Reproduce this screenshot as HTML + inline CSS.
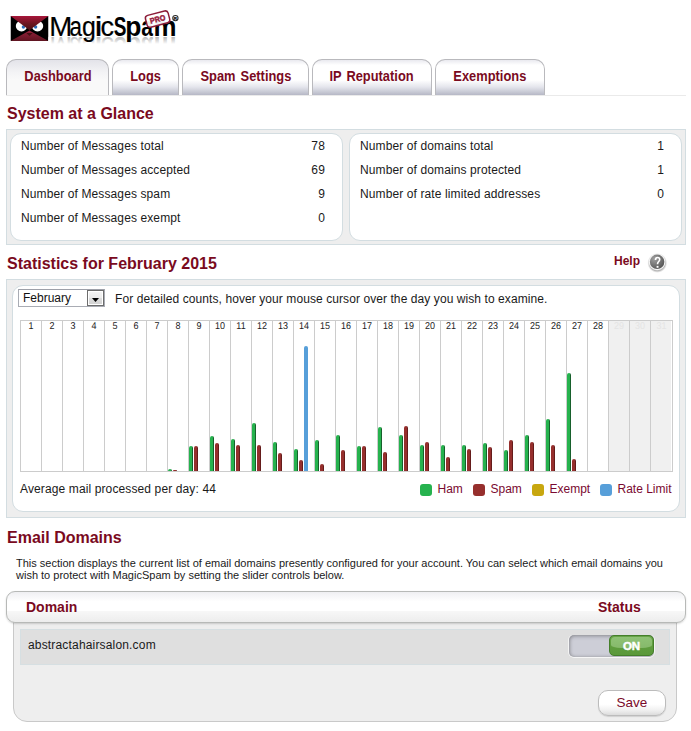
<!DOCTYPE html>
<html>
<head>
<meta charset="utf-8">
<title>MagicSpam</title>
<style>
html,body{margin:0;padding:0;background:#fff;}
body{width:691px;height:731px;position:relative;overflow:hidden;font-family:"Liberation Sans",sans-serif;font-size:12px;color:#1a1a1a;}
.abs{position:absolute;}
.h{position:absolute;left:7px;font-weight:bold;font-size:16px;color:#7a0a1e;line-height:18px;white-space:nowrap;}
/* tabs */
.tab{position:absolute;top:59px;height:36px;box-sizing:border-box;border:1px solid #b9b9bd;border-bottom:none;border-radius:10px 10px 0 0;
 font-weight:bold;font-size:13px;color:#7a0a1e;text-align:center;line-height:33px;word-spacing:1.5px;
 background:linear-gradient(to bottom,#e9e9ef 0px,#ffffff 5px,#ffffff 20px,#e4e5ec 27px,#b6b8c6 35px);}
.tab.act{background:linear-gradient(to bottom,#e3e3e9 0px,#f3f3f5 12px,#f9f9f9 20px,#f9f9f9 35px);}
.tab span{display:inline-block;transform:scale(0.99,1.12);transform-origin:50% 23.500px;}
.tabline{position:absolute;left:6px;top:95px;width:680px;height:1px;background:#eaeaea;}
/* panels */
.panel{position:absolute;left:6px;width:680px;box-sizing:border-box;background:#eeeeee;border:1px solid #d3dde1;}
.box{position:absolute;box-sizing:border-box;background:#fff;border:1px solid #d3dde1;border-radius:11px;}
.row{position:absolute;left:0;right:0;height:24px;line-height:24px;white-space:nowrap;}
.row .l{letter-spacing:0.11px;}
.row .l{position:absolute;left:10px;}
.row .r{position:absolute;right:16.800px;letter-spacing:0.3px;}
/* chart */
.chart{position:absolute;left:20px;top:320px;width:652px;height:152px;}
.col{position:absolute;top:0;width:22px;height:152px;box-sizing:border-box;border:1px solid #cccccc;font-size:9px;line-height:10px;text-align:center;color:#1c1c1c;}
.col i{display:block;font-style:normal;transform:rotate(0.05deg) scaleY(1.10);transform-origin:50% 8px;}
.col.off{background:#f0f0f0;color:#e4e4e4;}
.bar{position:absolute;bottom:0;width:4px;border-radius:2px 2px 0 0;}
.g{background:linear-gradient(to right,#26b24e 0,#26b24e 3px,#17602c 3px);}
.s{background:linear-gradient(to right,#962f2d 0,#962f2d 3px,#651c1b 3px);}
.b{background:#579fd9;}
.leg{position:absolute;top:484px;width:12px;height:12px;border-radius:3px;}
.legt{position:absolute;top:482px;line-height:15px;color:#7a0a30;white-space:nowrap;}
</style>
</head>
<body>

<!-- LOGO -->
<svg class="abs" style="left:0;top:0" width="200" height="56" viewBox="0 0 200 56">
  <defs>
    <linearGradient id="rt" x1="0" y1="0" x2="0" y2="1"><stop offset="0" stop-color="#a8163a"/><stop offset="0.55" stop-color="#6a1520"/><stop offset="1" stop-color="#4c1014"/></linearGradient>
    <linearGradient id="rb" x1="0" y1="0" x2="0" y2="1"><stop offset="0" stop-color="#94203a"/><stop offset="1" stop-color="#5e1420"/></linearGradient>
    <linearGradient id="fade" x1="0" y1="0" x2="0" y2="1"><stop offset="0" stop-color="#fff" stop-opacity="0.5"/><stop offset="0.36" stop-color="#fff" stop-opacity="1"/></linearGradient>
    <clipPath id="env"><rect x="10.5" y="16" width="38" height="25"/></clipPath>
    <clipPath id="refl"><rect x="48" y="36.600" width="135" height="20"/></clipPath>
  </defs>
  <g clip-path="url(#env)">
    <rect x="10.5" y="16" width="38" height="25" fill="#000"/>
    <ellipse cx="21.500" cy="26.100" rx="5.700" ry="5.300" fill="#fff"/>
    <ellipse cx="37.500" cy="26.100" rx="5.700" ry="5.300" fill="#fff"/>
    <circle cx="23.4" cy="27" r="1.7" fill="#2a6cb8"/>
    <circle cx="35.6" cy="27" r="1.7" fill="#2a6cb8"/>
    <polygon points="10.5,16 48.500,16 29.5,30.2" fill="url(#rt)"/>
    <polygon points="10.5,41 48.5,41 29.5,30.6" fill="url(#rb)"/>
    <polygon points="26.300,32.900 32.700,32.900 29.500,36.100" fill="#451014"/>
  </g>
  <!-- reflection -->
  <g clip-path="url(#refl)"><g transform="translate(0,72.800) scale(1,-1)" opacity="0.6"><text transform="translate(49.13,36.20) scale(0.988,1)" font-family="Liberation Sans, sans-serif" font-size="28" stroke="#000" stroke-width="0.2">M</text><text transform="translate(69.45,36.20) scale(0.800,1)" font-family="Liberation Sans, sans-serif" font-size="28" stroke="#000" stroke-width="0.2">a</text><text transform="translate(82.05,36.20) scale(0.889,1)" font-family="Liberation Sans, sans-serif" font-size="28" stroke="#000" stroke-width="0.2">g</text><text transform="translate(94.46,36.20) scale(1.300,1)" font-family="Liberation Sans, sans-serif" font-size="28" stroke="#000" stroke-width="0.2">i</text><text transform="translate(100.45,36.20) scale(0.969,1)" font-family="Liberation Sans, sans-serif" font-size="28" stroke="#000" stroke-width="0.2">c</text><text transform="translate(113.65,36.20) scale(0.680,1)" font-family="Liberation Sans, sans-serif" font-size="28" font-weight="bold">S</text><text transform="translate(125.16,36.20) scale(0.943,1)" font-family="Liberation Sans, sans-serif" font-size="28" font-weight="bold">p</text><text transform="translate(141.18,36.20) scale(0.750,1)" font-family="Liberation Sans, sans-serif" font-size="28" font-weight="bold">a</text><text transform="translate(153.59,36.20) scale(0.924,1)" font-family="Liberation Sans, sans-serif" font-size="28" font-weight="bold">m</text></g></g>
  <rect x="48" y="36.800" width="132" height="20" fill="url(#fade)"/>
  <g fill="#000"><text transform="translate(49.13,36.20) scale(0.988,1)" font-family="Liberation Sans, sans-serif" font-size="28" stroke="#000" stroke-width="0.2">M</text><text transform="translate(69.45,36.20) scale(0.800,1)" font-family="Liberation Sans, sans-serif" font-size="28" stroke="#000" stroke-width="0.2">a</text><text transform="translate(82.05,36.20) scale(0.889,1)" font-family="Liberation Sans, sans-serif" font-size="28" stroke="#000" stroke-width="0.2">g</text><text transform="translate(94.46,36.20) scale(1.300,1)" font-family="Liberation Sans, sans-serif" font-size="28" stroke="#000" stroke-width="0.2">i</text><text transform="translate(100.45,36.20) scale(0.969,1)" font-family="Liberation Sans, sans-serif" font-size="28" stroke="#000" stroke-width="0.2">c</text><text transform="translate(113.65,36.20) scale(0.680,1)" font-family="Liberation Sans, sans-serif" font-size="28" font-weight="bold">S</text><text transform="translate(125.16,36.20) scale(0.943,1)" font-family="Liberation Sans, sans-serif" font-size="28" font-weight="bold">p</text><text transform="translate(141.18,36.20) scale(0.750,1)" font-family="Liberation Sans, sans-serif" font-size="28" font-weight="bold">a</text><text transform="translate(153.59,36.20) scale(0.924,1)" font-family="Liberation Sans, sans-serif" font-size="28" font-weight="bold">m</text></g>
  <!-- PRO stamp -->
  <g transform="translate(157.600,19.100) rotate(-14.500)">
    <rect x="-11.700" y="-6.100" width="23.400" height="12.200" rx="3" fill="#fff" fill-opacity="0.93" stroke="#8c1c38" stroke-width="1.500"/>
    <text x="0" y="2.800" text-anchor="middle" font-family="Liberation Sans, sans-serif" font-size="7.800" font-weight="bold" fill="#98203e" stroke="#98203e" stroke-width="0.500" textLength="15.500" lengthAdjust="spacingAndGlyphs">PRO</text>
  </g>
  <circle cx="175.400" cy="18.100" r="2.650" fill="#fff" stroke="#2a2a2a" stroke-width="1.050"/>
  <text x="175.450" y="19.700" text-anchor="middle" font-family="Liberation Sans, sans-serif" font-size="4.400" font-weight="bold" fill="#111" stroke="#111" stroke-width="0.250">R</text>
</svg>

<!-- TABS -->
<div class="tabline"></div>
<div class="tab act" style="left:6px;width:103px;"><span>Dashboard</span></div>
<div class="tab" style="left:112px;width:67px;"><span>Logs</span></div>
<div class="tab" style="left:182px;width:127px;"><span>Spam Settings</span></div>
<div class="tab" style="left:312px;width:120px;"><span>IP Reputation</span></div>
<div class="tab" style="left:435px;width:110px;"><span>Exemptions</span></div>

<!-- SYSTEM AT A GLANCE -->
<div class="h" style="top:105px;">System at a Glance</div>
<div class="panel" style="top:129px;height:116px;">
  <div class="box" style="left:3px;top:3px;width:333px;height:108px;">
    <div class="row" style="top:0px;"><span class="l">Number of Messages total</span><span class="r">78</span></div>
    <div class="row" style="top:24px;"><span class="l">Number of Messages accepted</span><span class="r">69</span></div>
    <div class="row" style="top:48px;"><span class="l">Number of Messages spam</span><span class="r">9</span></div>
    <div class="row" style="top:72px;"><span class="l">Number of Messages exempt</span><span class="r">0</span></div>
  </div>
  <div class="box" style="left:342px;top:3px;width:333px;height:108px;">
    <div class="row" style="top:0px;"><span class="l">Number of domains total</span><span class="r">1</span></div>
    <div class="row" style="top:24px;"><span class="l">Number of domains protected</span><span class="r">1</span></div>
    <div class="row" style="top:48px;"><span class="l">Number of rate limited addresses</span><span class="r">0</span></div>
  </div>
</div>

<!-- STATISTICS -->
<div class="h" style="top:255px;">Statistics for February 2015</div>
<div class="abs" style="left:614px;top:254px;font-weight:bold;font-size:12px;color:#7a0a1e;line-height:15px;">Help</div>
<svg class="abs" style="left:645px;top:250px" width="25" height="25" viewBox="0 0 25 25">
  <defs>
    <radialGradient id="hg" cx="0.32" cy="0.3" r="0.85"><stop offset="0" stop-color="#a0a0a0"/><stop offset="0.5" stop-color="#767676"/><stop offset="1" stop-color="#4e4e4e"/></radialGradient>
    <radialGradient id="hs" cx="0.5" cy="0.5" r="0.5"><stop offset="0.8" stop-color="#b9b9b9"/><stop offset="1" stop-color="#dcdcdc" stop-opacity="0"/></radialGradient>
  </defs>
  <ellipse cx="12.300" cy="13" rx="10" ry="10" fill="url(#hs)"/>
  <circle cx="12.100" cy="12" r="8.300" fill="#f8f8f8"/>
  <circle cx="12.100" cy="11.850" r="7.250" fill="url(#hg)"/>
  <path d="M10.500,9.900 C10.500,8.300 11.400,7.500 12.600,7.500 C13.900,7.500 14.700,8.400 14.700,9.500 C14.700,11.500 12.500,11.700 12.500,14.300" fill="none" stroke="#fff" stroke-width="1.600" stroke-linecap="butt"/>
  <rect x="11.600" y="15.900" width="1.900" height="1.900" fill="#fff"/>
</svg>

<div class="panel" style="top:279px;height:239px;">
  <div class="box" style="left:5px;top:5px;width:668px;height:227px;"></div>
</div>
<!-- select -->
<div class="abs" style="left:18px;top:289px;width:87px;height:18px;box-sizing:border-box;border:1px solid #a9acb4;border-top-color:#9da0a8;background:#fff;">
  <div class="abs" style="left:4px;top:0;line-height:16px;font-size:12px;color:#111;">February</div>
</div>
<div class="abs" style="left:87px;top:290px;width:17px;height:16px;box-sizing:border-box;border:1px solid #6d6d6d;background:#fff;">
  <div class="abs" style="left:1px;top:1px;width:13px;height:12px;background:linear-gradient(to bottom,#f3f3f3 0,#ebebeb 49%,#dddddd 51%,#d3d3d3 100%);"></div>
  <svg class="abs" style="left:4px;top:7px" width="7" height="4" viewBox="0 0 7 4"><polygon points="0,0 7,0 3.500,4" fill="#000"/></svg>
</div>
<div class="abs" style="left:115px;top:291px;line-height:16px;white-space:nowrap;color:#1a1a1a;letter-spacing:0.08px;">For detailed counts, hover your mouse cursor over the day you wish to examine.</div>

<div class="chart"><div class="col" style="left:0px"><i>1</i></div>
<div class="col" style="left:21px"><i>2</i></div>
<div class="col" style="left:42px"><i>3</i></div>
<div class="col" style="left:63px"><i>4</i></div>
<div class="col" style="left:84px"><i>5</i></div>
<div class="col" style="left:105px"><i>6</i></div>
<div class="col" style="left:126px"><i>7</i></div>
<div class="col" style="left:147px"><i>8</i><div class="bar g" style="left:0px;height:2px"></div><div class="bar s" style="left:5px;height:1px"></div></div>
<div class="col" style="left:168px"><i>9</i><div class="bar g" style="left:0px;height:25px"></div><div class="bar s" style="left:5px;height:25px"></div></div>
<div class="col" style="left:189px"><i>10</i><div class="bar g" style="left:0px;height:35px"></div><div class="bar s" style="left:5px;height:28px"></div></div>
<div class="col" style="left:210px"><i>11</i><div class="bar g" style="left:0px;height:32px"></div><div class="bar s" style="left:5px;height:26px"></div></div>
<div class="col" style="left:231px"><i>12</i><div class="bar g" style="left:0px;height:48px"></div><div class="bar s" style="left:5px;height:26px"></div></div>
<div class="col" style="left:252px"><i>13</i><div class="bar g" style="left:0px;height:29px"></div><div class="bar s" style="left:5px;height:18px"></div></div>
<div class="col" style="left:273px"><i>14</i><div class="bar g" style="left:0px;height:22px"></div><div class="bar s" style="left:5px;height:11px"></div><div class="bar b" style="left:10px;height:125px"></div></div>
<div class="col" style="left:294px"><i>15</i><div class="bar g" style="left:0px;height:31px"></div><div class="bar s" style="left:5px;height:7px"></div></div>
<div class="col" style="left:315px"><i>16</i><div class="bar g" style="left:0px;height:36px"></div><div class="bar s" style="left:5px;height:21px"></div></div>
<div class="col" style="left:336px"><i>17</i><div class="bar g" style="left:0px;height:25px"></div><div class="bar s" style="left:5px;height:25px"></div></div>
<div class="col" style="left:357px"><i>18</i><div class="bar g" style="left:0px;height:44px"></div><div class="bar s" style="left:5px;height:19px"></div></div>
<div class="col" style="left:378px"><i>19</i><div class="bar g" style="left:0px;height:36px"></div><div class="bar s" style="left:5px;height:45px"></div></div>
<div class="col" style="left:399px"><i>20</i><div class="bar g" style="left:0px;height:26px"></div><div class="bar s" style="left:5px;height:29px"></div></div>
<div class="col" style="left:420px"><i>21</i><div class="bar g" style="left:0px;height:26px"></div><div class="bar s" style="left:5px;height:14px"></div></div>
<div class="col" style="left:441px"><i>22</i><div class="bar g" style="left:0px;height:26px"></div><div class="bar s" style="left:5px;height:22px"></div></div>
<div class="col" style="left:462px"><i>23</i><div class="bar g" style="left:0px;height:28px"></div><div class="bar s" style="left:5px;height:24px"></div></div>
<div class="col" style="left:483px"><i>24</i><div class="bar g" style="left:0px;height:21px"></div><div class="bar s" style="left:5px;height:31px"></div></div>
<div class="col" style="left:504px"><i>25</i><div class="bar g" style="left:0px;height:36px"></div><div class="bar s" style="left:5px;height:29px"></div></div>
<div class="col" style="left:525px"><i>26</i><div class="bar g" style="left:0px;height:52px"></div><div class="bar s" style="left:5px;height:26px"></div></div>
<div class="col" style="left:546px"><i>27</i><div class="bar g" style="left:0px;height:98px"></div><div class="bar s" style="left:5px;height:12px"></div></div>
<div class="col" style="left:567px"><i>28</i></div>
<div class="col off" style="left:588px"><i>29</i></div>
<div class="col off" style="left:609px"><i>30</i></div>
<div class="col off" style="left:630px;width:23px;box-shadow:inset -1px 0 0 #fff"><i>31</i></div>
</div>

<div class="abs" style="left:20px;top:482px;line-height:15px;white-space:nowrap;color:#1a1a1a;letter-spacing:0.12px;">Average mail processed per day: 44</div>

<div class="leg" style="left:420px;background:#26b24e;"></div><div class="legt" style="left:437.500px;">Ham</div>
<div class="leg" style="left:473px;background:#962f2d;"></div><div class="legt" style="left:490.500px;">Spam</div>
<div class="leg" style="left:532px;background:#c8a70f;"></div><div class="legt" style="left:549.500px;">Exempt</div>
<div class="leg" style="left:600px;background:#579fd9;"></div><div class="legt" style="left:617.500px;">Rate Limit</div>

<!-- EMAIL DOMAINS -->
<div class="h" style="top:529px;">Email Domains</div>
<div class="abs" style="left:16px;top:557px;width:670px;font-size:11px;line-height:12px;color:#1a1a1a;">This section displays the current list of email domains presently configured for your account. You can select which email domains you<br>wish to protect with MagicSpam by setting the slider controls below.</div>

<!-- table body -->
<div class="abs" style="left:13px;top:610px;width:664px;height:112px;box-sizing:border-box;border:1px solid #c9c9c9;border-radius:0 0 14px 14px;background:#eeeeee;"></div>
<div class="abs" style="left:20px;top:629px;width:650px;height:36px;background:#dfdfdf;box-sizing:border-box;border:1px solid #d6dfe2;"></div>
<div class="abs" style="left:28px;top:638px;line-height:15px;white-space:nowrap;color:#1a1a1a;letter-spacing:0.17px;">abstractahairsalon.com</div>
<!-- table header -->
<div class="abs" style="left:6px;top:591px;width:680px;height:32px;box-sizing:border-box;border:1px solid #b7b9b7;border-radius:9px;background:linear-gradient(to bottom,#efeff2 0,#ffffff 32%,#ffffff 62%,#f7f7f7 65%,#ededed 100%);box-shadow:0 1px 2px rgba(0,0,0,0.16);"></div>
<div class="abs" style="left:26px;top:599px;font-weight:bold;font-size:14px;line-height:17px;color:#7a0a1e;">Domain</div>
<div class="abs" style="left:598px;top:599px;font-weight:bold;font-size:14px;line-height:17px;color:#7a0a1e;">Status</div>

<!-- toggle -->
<div class="abs" style="left:569px;top:635px;width:85px;height:22px;border-radius:5px;background:#cdced7;box-shadow:inset 0 1px 4px rgba(0,0,0,0.30),inset 1px 0 3px rgba(0,0,0,0.12),-1px 0 0 #f4f4f4,0 1px 0 #f6f6f6,1px 0 0 #f4f4f4;"></div>
<div class="abs" style="left:609px;top:635px;width:45px;height:21px;box-sizing:border-box;border:1px solid #457f2b;border-radius:5px;background:linear-gradient(to bottom,#68a447 0,#5f9d3d 50%,#5a983a 100%);"><div class="abs" style="left:1px;right:1px;top:1px;height:11px;border-radius:4px 4px 10px 10px / 4px 4px 3px 3px;background:linear-gradient(to bottom,#8fc275,#86b96b);"></div><div class="abs" style="left:0;right:0;top:0;color:#fff;font-weight:bold;font-size:11.500px;line-height:21px;text-align:center;-webkit-text-stroke:0.45px #fff;">ON</div></div>

<!-- save -->
<div class="abs" style="left:598px;top:690px;width:68px;height:26px;box-sizing:border-box;border:1px solid #bcbcbc;border-radius:10px;background:linear-gradient(to bottom,#ffffff 0,#ffffff 55%,#f0f0f0 80%,#dcdcdc 100%);box-shadow:0 1px 1px rgba(0,0,0,0.12);color:#7a0a2a;font-size:13.500px;line-height:24px;text-align:center;">Save</div>

</body>
</html>
